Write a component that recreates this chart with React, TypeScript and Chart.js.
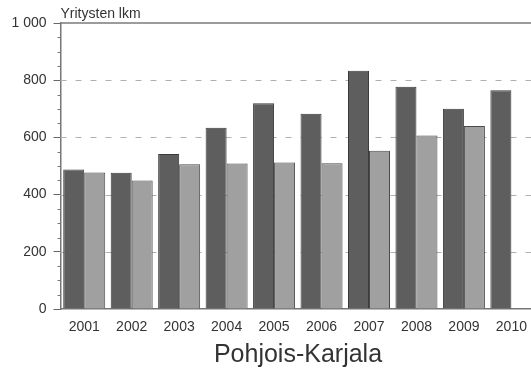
import React, { useEffect, useRef } from "react";
import { Chart, registerables } from "chart.js";

Chart.register(...registerables);

const years = ["2001", "2002", "2003", "2004", "2005", "2006", "2007", "2008", "2009", "2010"];
const seriesDark = [488, 476, 542, 634, 719, 683, 833, 777, 700, 765];
const seriesLight = [477, 449, 506, 509, 512, 510, 553, 607, 640, null];
const gridValues = [200, 400, 600, 800];
const yTitle = "Yritysten lkm";
const chartTitle = "Pohjois-Karjala";

const FONT = "'Liberation Sans', Arial, sans-serif";

const decor = {
  id: "decor",
  beforeDatasetsDraw(chart: any) {
    const { ctx, chartArea, scales } = chart;
    const y = scales.y;
    ctx.save();
    ctx.strokeStyle = "#b0b0b0";
    ctx.lineWidth = 1;
    ctx.setLineDash([6, 9]);
    for (const v of gridValues) {
      const p = Math.round(y.getPixelForValue(v)) + 0.5;
      ctx.beginPath();
      ctx.moveTo(chartArea.left, p);
      ctx.lineTo(chartArea.right, p);
      ctx.stroke();
    }
    ctx.restore();
  },
  afterDraw(chart: any) {
    const { ctx, chartArea, scales } = chart;
    const y = scales.y;
    ctx.save();
    const top = y.getPixelForValue(1000);
    ctx.strokeStyle = "#7a7a7a";
    ctx.lineWidth = 1.5;
    ctx.beginPath();
    ctx.moveTo(chartArea.left, top);
    ctx.lineTo(chartArea.right, top);
    ctx.stroke();
    ctx.strokeStyle = "#777";
    ctx.lineWidth = 1;
    for (let v = 50; v < 1000; v += 50) {
      if (v % 200 === 0) continue;
      const p = Math.round(y.getPixelForValue(v)) + 0.5;
      ctx.beginPath();
      ctx.moveTo(chartArea.left - 3, p);
      ctx.lineTo(chartArea.left, p);
      ctx.stroke();
    }
    ctx.fillStyle = "#333";
    ctx.font = `14px ${FONT}`;
    ctx.textAlign = "left";
    ctx.textBaseline = "alphabetic";
    ctx.fillText(yTitle, chartArea.left, 18);
    ctx.font = `25px ${FONT}`;
    ctx.textAlign = "center";
    ctx.fillText(chartTitle, 298, 362);
    ctx.restore();
  },
};

export default function App() {
  const ref = useRef<HTMLCanvasElement>(null);
  useEffect(() => {
    if (!ref.current) return;
    const chart = new Chart(ref.current, {
      type: "bar",
      data: {
        labels: years,
        datasets: [
          {
            data: seriesDark,
            backgroundColor: "#5e5e5e",
            borderColor: "#3a3a3a",
            borderWidth: 1,
            categoryPercentage: 0.885,
            barPercentage: 1,
          },
          {
            data: seriesLight as any,
            backgroundColor: "#a0a0a0",
            borderColor: "#4a4a4a",
            borderWidth: 1,
            categoryPercentage: 0.885,
            barPercentage: 1,
          },
        ],
      },
      options: {
        animation: false,
        responsive: false,
        maintainAspectRatio: false,
        layout: { padding: { top: 23, left: 0, right: 1, bottom: 0 } },
        plugins: { legend: { display: false }, tooltip: { enabled: false }, title: { display: false } },
        scales: {
          x: {
            grid: { display: false, drawTicks: false },
            border: { display: true, color: "#777", width: 1.5 },
            ticks: { color: "#333", font: { family: FONT, size: 14 }, padding: 10, maxRotation: 0 },
            afterFit: (s: any) => {
              s.height = 62;
            },
          },
          y: {
            min: 0,
            max: 1000,
            grid: {
              drawOnChartArea: false,
              tickColor: "#666",
              tickLength: 7,
              lineWidth: 1,
            },
            border: { display: true, color: "#777", width: 1.5 },
            ticks: {
              stepSize: 200,
              color: "#333",
              font: { family: FONT, size: 14 },
              padding: 7,
              callback: (v: any) => (v === 1000 ? "1 000" : String(v)),
            },
            afterFit: (s: any) => {
              s.width = 60.5;
            },
          },
        },
      },
      plugins: [decor],
    });
    return () => chart.destroy();
  }, []);
  return (
    <div style={{ position: "fixed", left: 0, top: 0, width: 531, height: 371, overflow: "hidden", background: "#fff" }}>
      <canvas ref={ref} width={537} height={371} style={{ display: "block", width: 537, height: 371 }} />
    </div>
  );
}
